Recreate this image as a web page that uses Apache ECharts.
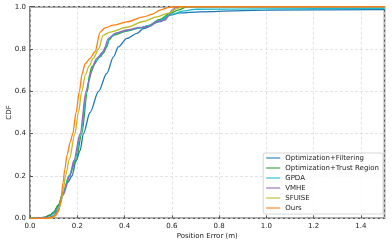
<!DOCTYPE html>
<html>
<head>
<meta charset="utf-8">
<script src="https://cdn.jsdelivr.net/npm/echarts@6/dist/echarts.min.js"></script>
<style>html,body{margin:0;padding:0;background:#fff;}#c{width:392px;height:245px;}</style>
</head>
<body>
<div id="c"></div>
<script>
const seriesNames = ['Optimization+Filtering','Optimization+Trust Region','GPDA','VMHE','SFUISE','Ours'];
const xTicks = [0, 0.2, 0.4, 0.6, 0.8, 1.0, 1.2, 1.4];
const yTicks = [0, 0.2, 0.4, 0.6, 0.8, 1.0];

const filteringData = [[0,0],[0.04,0.001],[0.06,0.005],[0.08,0.012],[0.10,0.025],[0.12,0.06],[0.14,0.12],[0.16,0.17],[0.177,0.2],[0.195,0.27],[0.212,0.32],[0.226,0.4],[0.254,0.5],[0.29,0.6],[0.325,0.685],[0.353,0.763],[0.374,0.81],[0.41,0.85],[0.452,0.874],[0.48,0.897],[0.55,0.929],[0.593,0.96],[0.636,0.971],[0.72,0.976],[1.0,0.984],[1.5,0.986]];
const trustData = [[0,0],[0.06,0.003],[0.085,0.016],[0.10,0.03],[0.12,0.063],[0.14,0.12],[0.165,0.2],[0.195,0.275],[0.219,0.4],[0.243,0.6],[0.252,0.68],[0.261,0.716],[0.297,0.763],[0.31,0.78],[0.325,0.81],[0.335,0.845],[0.353,0.866],[0.41,0.885],[0.466,0.90],[0.50,0.91],[0.55,0.94],[0.593,0.97],[0.628,0.984],[0.664,1.0],[1.5,1.0]];
const gpdaData = [[0,0],[0.08,0.003],[0.10,0.015],[0.12,0.05],[0.14,0.115],[0.165,0.2],[0.19,0.275],[0.215,0.4],[0.24,0.6],[0.255,0.68],[0.275,0.74],[0.30,0.77],[0.32,0.81],[0.34,0.855],[0.37,0.876],[0.41,0.888],[0.466,0.90],[0.50,0.91],[0.55,0.935],[0.60,0.965],[0.65,0.98],[0.70,0.988],[1.0,0.99],[1.5,0.992]];
const vmheData = [[0,0],[0.08,0.003],[0.10,0.01],[0.12,0.04],[0.14,0.11],[0.169,0.2],[0.186,0.275],[0.212,0.4],[0.237,0.6],[0.25,0.65],[0.261,0.70],[0.282,0.756],[0.31,0.787],[0.332,0.85],[0.36,0.874],[0.41,0.89],[0.466,0.902],[0.508,0.908],[0.537,0.93],[0.572,0.937],[0.586,0.955],[0.60,0.984],[0.62,0.997],[0.64,1.0],[1.5,1.0]];
const sfuiseData = [[0,0],[0.08,0],[0.10,0.005],[0.12,0.03],[0.13,0.07],[0.14,0.13],[0.15,0.20],[0.167,0.28],[0.19,0.40],[0.205,0.50],[0.219,0.60],[0.235,0.68],[0.25,0.72],[0.268,0.756],[0.29,0.80],[0.31,0.866],[0.339,0.88],[0.41,0.903],[0.48,0.93],[0.537,0.952],[0.586,0.97],[0.62,0.99],[0.65,1.0],[1.5,1.0]];
const oursData = [[0,0],[0.07,0],[0.09,0.003],[0.11,0.015],[0.12,0.035],[0.13,0.08],[0.14,0.17],[0.147,0.23],[0.157,0.30],[0.17,0.36],[0.181,0.40],[0.195,0.50],[0.209,0.60],[0.22,0.68],[0.233,0.73],[0.254,0.756],[0.275,0.787],[0.297,0.88],[0.318,0.90],[0.352,0.913],[0.41,0.928],[0.48,0.952],[0.52,0.965],[0.55,0.984],[0.59,0.997],[0.62,1.0],[1.5,1.0]];

const allData = [filteringData, trustData, gpdaData, vmheData, sfuiseData, oursData];
const colors = ['#1f77b4','#2ca02c','#17becf','#9467bd','#bcbd22','#ff7f0e'];
const font = 'DejaVu Sans';

const chart = echarts.init(document.getElementById('c'), null, {renderer: 'canvas'});
chart.setOption({
  animation: false,
  backgroundColor: '#fff',
  grid: {left: 30, right: 7.5, top: 6.7, bottom: 26.7, show: true, borderColor: '#555', borderWidth: 1.5,
    backgroundColor: 'transparent', containLabel: false, outerBoundsMode: 'none'},
  legend: {
    data: seriesNames.map(n => ({name: n, icon: 'rect'})),
    orient: 'vertical',
    right: 9, bottom: 31,
    itemWidth: 14, itemHeight: 1.8, itemGap: 0,
    padding: [0, 4, 1, 3],
    borderColor: '#ccc', borderWidth: 0.8, borderRadius: 2,
    backgroundColor: 'rgba(255,255,255,0.85)',
    textStyle: {fontFamily: font, fontSize: 7, color: '#222', lineHeight: 10},
    itemStyle: {opacity: 0.6}
  },
  xAxis: {
    type: 'value', min: 0, max: 1.5, interval: 0.2,
    name: 'Position Error (m)', nameLocation: 'middle', nameGap: 14, nameMoveOverlap: false,
    nameTextStyle: {fontFamily: font, fontSize: 7, color: '#222'},
    axisLine: {show: false},
    axisTick: {show: true, inside: true, length: 3, lineStyle: {color: '#555'}},
    axisLabel: {fontFamily: font, fontSize: 7, color: '#222', margin: 4, showMaxLabel: false,
      formatter: v => xTicks.some(t => Math.abs(t - v) < 1e-9) ? v.toFixed(1) : ''},
    splitLine: {show: true, lineStyle: {color: '#ddd', width: 0.8, type: [3, 2]}}
  },
  yAxis: {
    type: 'value', min: 0, max: 1, interval: 0.2,
    name: 'CDF', nameLocation: 'middle', nameGap: 17, nameRotate: 90, nameMoveOverlap: false,
    nameTextStyle: {fontFamily: font, fontSize: 7, color: '#222'},
    axisLine: {show: false},
    axisTick: {show: true, inside: true, length: 3, lineStyle: {color: '#555'}},
    axisLabel: {fontFamily: font, fontSize: 7, color: '#222', margin: 4,
      formatter: v => yTicks.some(t => Math.abs(t - v) < 1e-9) ? v.toFixed(1) : ''},
    splitLine: {show: true, lineStyle: {color: '#ddd', width: 0.8, type: [3, 2]}}
  },
  series: seriesNames.map((n, i) => ({
    name: n, type: 'line', data: allData[i],
    showSymbol: false, symbol: 'none',
    smooth: 0.3, smoothMonotone: 'x',
    color: colors[i],
    lineStyle: {width: 1.3, color: colors[i]}
  }))
});
</script>
</body>
</html>
